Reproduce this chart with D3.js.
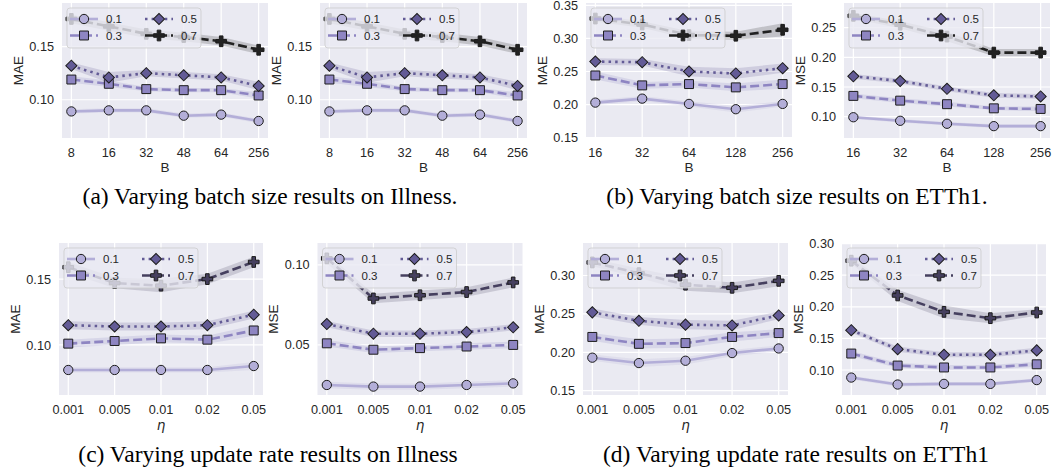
<!DOCTYPE html>
<html>
<head>
<meta charset="utf-8">
<script src="https://cdn.jsdelivr.net/npm/d3@7"></script>
<style>
body { margin: 0; background: #fff; }
svg text { font-family: "Liberation Sans", Arial, sans-serif; fill: #262626; }
.caption { font-family: "Liberation Serif", "Times New Roman", serif; font-size: 23.5px; fill: #000; }
</style>
</head>
<body>
<script>
// categories
var batchIll = ["8", "16", "32", "48", "64", "256"];
var batchEtt = ["16", "32", "64", "128", "256"];
var rates = ["0.001", "0.005", "0.01", "0.02", "0.05"];
var seriesNames = ["0.1", "0.3", "0.5", "0.7"];

// mean values, one row per series (0.1, 0.3, 0.5, 0.7)
var illBatchMae = [
    [0.089, 0.090, 0.090, 0.085, 0.086, 0.080],
    [0.119, 0.115, 0.110, 0.109, 0.109, 0.104],
    [0.132, 0.121, 0.125, 0.123, 0.121, 0.113],
    [0.176, 0.169, 0.162, 0.159, 0.155, 0.147]
];
var ettBatchMae = [
    [0.203, 0.209, 0.201, 0.193, 0.201],
    [0.244, 0.229, 0.231, 0.226, 0.231],
    [0.265, 0.264, 0.250, 0.247, 0.255],
    [0.330, 0.321, 0.305, 0.304, 0.313]
];
var ettBatchMse = [
    [0.099, 0.093, 0.088, 0.084, 0.084],
    [0.135, 0.127, 0.121, 0.114, 0.113],
    [0.168, 0.160, 0.147, 0.136, 0.134],
    [0.270, 0.255, 0.235, 0.208, 0.208]
];
var illRateMae = [
    [0.081, 0.081, 0.081, 0.081, 0.084],
    [0.101, 0.103, 0.105, 0.104, 0.111],
    [0.115, 0.114, 0.114, 0.115, 0.123],
    [0.159, 0.147, 0.145, 0.150, 0.163]
];
var illRateMse = [
    [0.025, 0.024, 0.024, 0.025, 0.026],
    [0.051, 0.047, 0.048, 0.049, 0.050],
    [0.063, 0.057, 0.057, 0.058, 0.061],
    [0.104, 0.079, 0.081, 0.083, 0.089]
];
var ettRateMae = [
    [0.193, 0.186, 0.189, 0.199, 0.205],
    [0.220, 0.211, 0.212, 0.220, 0.225],
    [0.252, 0.241, 0.236, 0.235, 0.248],
    [0.317, 0.303, 0.288, 0.284, 0.293]
];
var ettRateMse = [
    [0.088, 0.077, 0.078, 0.078, 0.084],
    [0.126, 0.107, 0.104, 0.104, 0.109],
    [0.163, 0.133, 0.124, 0.124, 0.131],
    [0.273, 0.218, 0.192, 0.182, 0.191]
];

// half width of the shaded band around each mean
var illBatchMaeCi = [
    [0.002, 0.002, 0.002, 0.002, 0.002, 0.002],
    [0.003, 0.003, 0.002, 0.002, 0.002, 0.003],
    [0.003, 0.005, 0.003, 0.003, 0.003, 0.004],
    [0.004, 0.004, 0.004, 0.004, 0.004, 0.004]
];
var ettBatchMaeCi = [
    [0.004, 0.004, 0.004, 0.005, 0.004],
    [0.006, 0.005, 0.005, 0.006, 0.007],
    [0.005, 0.005, 0.007, 0.008, 0.007],
    [0.005, 0.005, 0.006, 0.006, 0.010]
];
var ettBatchMseCi = [
    [0.003, 0.003, 0.003, 0.003, 0.003],
    [0.004, 0.004, 0.004, 0.003, 0.004],
    [0.004, 0.004, 0.004, 0.004, 0.004],
    [0.005, 0.006, 0.008, 0.006, 0.006]
];
var illRateMaeCi = [
    [0.002, 0.002, 0.002, 0.002, 0.003],
    [0.003, 0.003, 0.003, 0.003, 0.004],
    [0.003, 0.003, 0.003, 0.003, 0.003],
    [0.004, 0.004, 0.005, 0.004, 0.004]
];
var illRateMseCi = [
    [0.002, 0.002, 0.002, 0.002, 0.002],
    [0.002, 0.002, 0.002, 0.002, 0.002],
    [0.002, 0.002, 0.002, 0.002, 0.002],
    [0.003, 0.003, 0.003, 0.003, 0.003]
];
var ettRateMaeCi = [
    [0.004, 0.005, 0.005, 0.004, 0.004],
    [0.005, 0.006, 0.006, 0.006, 0.005],
    [0.005, 0.005, 0.006, 0.006, 0.005],
    [0.005, 0.006, 0.008, 0.007, 0.007]
];
var ettRateMseCi = [
    [0.003, 0.003, 0.003, 0.003, 0.003],
    [0.004, 0.004, 0.004, 0.004, 0.004],
    [0.004, 0.004, 0.004, 0.004, 0.004],
    [0.005, 0.009, 0.010, 0.008, 0.005]
];

var captions = [
    "(a) Varying batch size results on Illness.",
    "(b) Varying batch size results on ETTh1.",
    "(c) Varying update rate results on Illness",
    "(d) Varying update rate results on ETTh1"
];

var colorsTop = ["#b3aed8", "#8e85c2", "#635b96", "#222222"];
var colorsBottom = ["#b3aed8", "#8e85c2", "#635b96", "#46405f"];
var dashes = [null, "9,4", "2.5,4.1", "9,4"];

var svg = d3.select("body").append("svg")
    .attr("width", 1052)
    .attr("height", 467);

// panel layout (pixel boxes) + which data goes where
var panels = [
    {cats: batchIll, vals: illBatchMae, ci: illBatchMaeCi, ylab: "MAE", xlab: "B", left: 62, right: 268, top: 3, bottom: 138, dom: [0.064, 0.191], ticks: [0.10, 0.15], colors: colorsTop},
    {cats: batchIll, vals: illBatchMae, ci: illBatchMaeCi, ylab: "MAE", xlab: "B", left: 320, right: 527, top: 3, bottom: 138, dom: [0.064, 0.191], ticks: [0.10, 0.15], colors: colorsTop},
    {cats: batchEtt, vals: ettBatchMae, ci: ettBatchMaeCi, ylab: "MAE", xlab: "B", left: 586, right: 792, top: 3, bottom: 138, dom: [0.1495, 0.3535], ticks: [0.15, 0.20, 0.25, 0.30, 0.35], colors: colorsTop},
    {cats: batchEtt, vals: ettBatchMse, ci: ettBatchMseCi, ylab: "MSE", xlab: "B", left: 844, right: 1050, top: 3, bottom: 138, dom: [0.064, 0.2916], ticks: [0.10, 0.15, 0.20, 0.25], colors: colorsTop},
    {cats: rates, vals: illRateMae, ci: illRateMaeCi, ylab: "MAE", xlab: "η", left: 59, right: 263, top: 243, bottom: 395, dom: [0.062, 0.1774], ticks: [0.10, 0.15], colors: colorsBottom},
    {cats: rates, vals: illRateMse, ci: illRateMseCi, ylab: "MSE", xlab: "η", left: 317.5, right: 522.5, top: 243, bottom: 395, dom: [0.01875, 0.1136], ticks: [0.05, 0.10], colors: colorsBottom},
    {cats: rates, vals: ettRateMae, ci: ettRateMaeCi, ylab: "MAE", xlab: "η", left: 583, right: 788, top: 243, bottom: 395, dom: [0.1444, 0.3423], ticks: [0.15, 0.20, 0.25, 0.30], colors: colorsBottom},
    {cats: rates, vals: ettRateMse, ci: ettRateMseCi, ylab: "MSE", xlab: "η", left: 842, right: 1046, top: 243, bottom: 395, dom: [0.0604, 0.301], ticks: [0.10, 0.15, 0.20, 0.25, 0.30], colors: colorsBottom}
];

var symCircle = d3.symbol().type(d3.symbolCircle).size(68);
var symSquare = d3.symbol().type(d3.symbolSquare).size(80);
var symDiamond = d3.symbol().type(d3.symbolSquare).size(62);
var symPlus = d3.symbol().type(d3.symbolCross).size(64);

function markerPath(i) {
    return [symCircle, symSquare, symDiamond, symPlus][i]();
}
function markerRot(i) {
    return i == 2 ? " rotate(45)" : "";
}

panels.forEach(drawPanel);

function drawPanel(p) {
    var n = p.cats.length;
    var x = d3.scalePoint().domain(p.cats).range([p.left, p.right]).padding(0.05 * (n - 1));
    var y = d3.scaleLinear().domain(p.dom).range([p.bottom, p.top]);
    var g = svg.append("g");

    g.append("rect")
        .attr("x", p.left).attr("y", p.top)
        .attr("width", p.right - p.left).attr("height", p.bottom - p.top)
        .attr("fill", "#eaeaf2");

    // grid
    g.selectAll(".hg").data(p.ticks).enter().append("line")
        .attr("x1", p.left).attr("x2", p.right)
        .attr("y1", function(d) { return y(d); }).attr("y2", function(d) { return y(d); })
        .attr("stroke", "#fff").attr("stroke-width", 1.2);
    g.selectAll(".vg").data(p.cats).enter().append("line")
        .attr("x1", function(d) { return x(d); }).attr("x2", function(d) { return x(d); })
        .attr("y1", p.top).attr("y2", p.bottom)
        .attr("stroke", "#fff").attr("stroke-width", 1.2);

    // tick labels
    g.selectAll(".yt").data(p.ticks).enter().append("text")
        .attr("x", p.left - 8).attr("y", function(d) { return y(d); })
        .attr("dy", "0.36em")
        .attr("text-anchor", "end")
        .style("font-size", "12.7px")
        .text(d3.format(".2f"));
    g.selectAll(".xt").data(p.cats).enter().append("text")
        .attr("x", function(d) { return x(d); })
        .attr("y", p.bottom + 19)
        .attr("text-anchor", "middle")
        .style("font-size", "12.7px")
        .text(function(d) { return d; });

    // axis labels
    g.append("text")
        .attr("transform", "translate(" + (p.left - 44) + "," + ((p.top + p.bottom) / 2) + ") rotate(-90)")
        .attr("text-anchor", "middle")
        .attr("dy", "0.36em")
        .style("font-size", "13.5px")
        .text(p.ylab);
    var xl = g.append("text")
        .attr("x", (p.left + p.right) / 2)
        .attr("text-anchor", "middle")
        .style("font-size", "13.5px")
        .text(p.xlab);
    if (p.xlab == "η") {
        xl.attr("y", p.bottom + 35).style("font-family", "'DejaVu Sans', sans-serif").style("font-style", "italic");
    } else {
        xl.attr("y", p.bottom + 34);
    }

    // series: band, line, markers
    p.vals.forEach(function(vals, si) {
        var col = p.colors[si];
        var pts = vals.map(function(v, i) { return {c: p.cats[i], v: v, e: p.ci[si][i]}; });

        g.append("path")
            .datum(pts)
            .attr("fill", col)
            .attr("fill-opacity", 0.2)
            .attr("d", d3.area()
                .x(function(d) { return x(d.c); })
                .y0(function(d) { return y(d.v - d.e); })
                .y1(function(d) { return y(d.v + d.e); }));

        g.append("path")
            .datum(pts)
            .attr("fill", "none")
            .attr("stroke", col)
            .attr("stroke-width", 2.6)
            .attr("stroke-dasharray", dashes[si])
            .attr("d", d3.line()
                .x(function(d) { return x(d.c); })
                .y(function(d) { return y(d.v); }));

        g.selectAll(".m" + si).data(pts).enter().append("path")
            .attr("transform", function(d) { return "translate(" + x(d.c) + "," + y(d.v) + ")" + markerRot(si); })
            .attr("d", markerPath(si))
            .attr("fill", col)
            .attr("stroke", "#1c1c1c")
            .attr("stroke-width", 1);
    });

    // legend, two columns: 0.1/0.3 then 0.5/0.7
    var lg = g.append("g").attr("transform", "translate(" + p.left + "," + p.top + ")");
    lg.append("rect")
        .attr("x", 5).attr("y", 5)
        .attr("width", 134).attr("height", 40)
        .attr("rx", 3)
        .attr("fill", "#eaeaf2").attr("fill-opacity", 0.8)
        .attr("stroke", "#cccccc").attr("stroke-opacity", 0.8);

    seriesNames.forEach(function(name, si) {
        var cx = si < 2 ? 0 : 75;
        var cy = si % 2 == 0 ? 16 : 32.5;
        var col = p.colors[si];
        lg.append("line")
            .attr("x1", cx + 8).attr("x2", cx + 36)
            .attr("y1", cy).attr("y2", cy)
            .attr("stroke", col).attr("stroke-width", 2.6)
            .attr("stroke-dasharray", dashes[si]);
        lg.append("path")
            .attr("transform", "translate(" + (cx + 22) + "," + cy + ")" + markerRot(si))
            .attr("d", markerPath(si))
            .attr("fill", col)
            .attr("stroke", "#1c1c1c")
            .attr("stroke-width", 1);
        lg.append("text")
            .attr("x", cx + 44).attr("y", cy)
            .attr("dy", "0.36em")
            .style("font-size", "11.5px")
            .text(name);
    });
}

// captions
var capPos = [[270, 204], [797, 204], [268, 462], [796, 462]];
svg.selectAll(".caption").data(captions).enter().append("text")
    .attr("class", "caption")
    .attr("x", function(d, i) { return capPos[i][0]; })
    .attr("y", function(d, i) { return capPos[i][1]; })
    .attr("text-anchor", "middle")
    .text(function(d) { return d; });
</script>
</body>
</html>
